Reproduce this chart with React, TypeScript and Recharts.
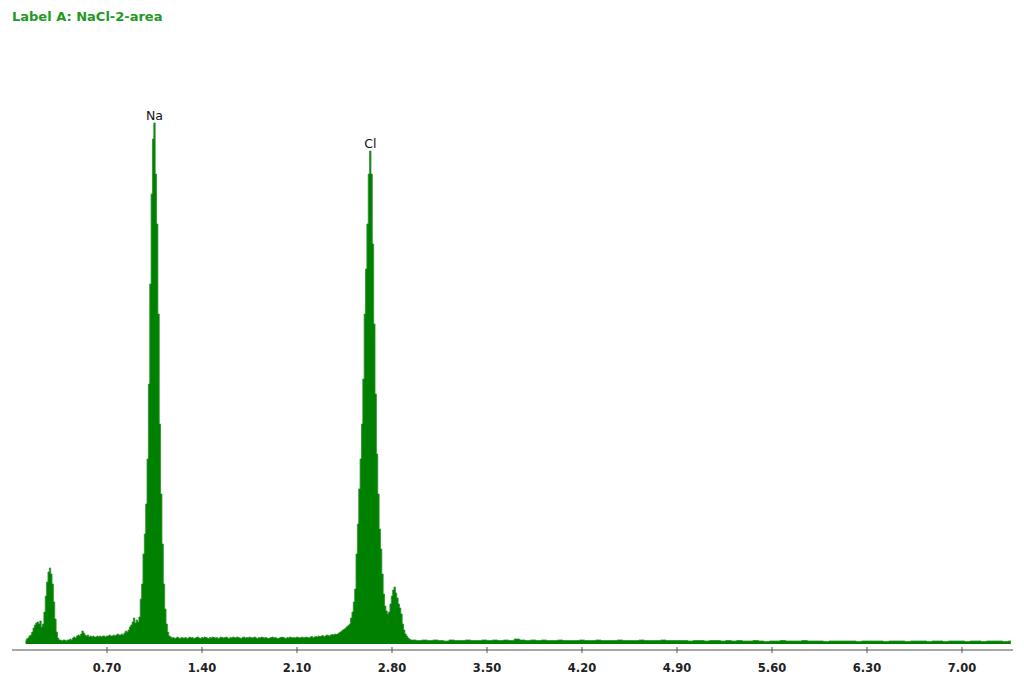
import React from 'react';
import { AreaChart, Area, XAxis, YAxis, ReferenceDot } from 'recharts';

// counts per 10 eV channel
const lowCounts = [
  30, 50, 60, 80, 90, 120, 160, 190, 210, 220,
  200, 230, 170, 200, 320, 480, 620, 720, 760, 700,
  600, 420, 250, 120, 60, 40, 40, 30, 40, 40,
  30, 40, 40, 50, 40, 60, 70, 60, 80, 90,
  80, 100, 130, 110, 90, 80, 90, 70, 80, 70,
  80, 70, 70, 80, 70, 80, 70, 80, 80, 70,
  80, 80, 90, 80, 80, 90, 80, 90, 100, 90,
]; // 0.10 - 0.79 keV

const naCounts = [
  90, 100, 90, 110, 130, 120, 140, 170, 190, 220,
  260, 210, 240, 220, 270, 450, 600, 900, 1100, 1400,
  1850, 2600, 3600, 4500, 5050, 5210, 4700, 4200, 3300, 2200,
  1500, 1000, 600, 350, 200, 120, 80,
]; // 0.80 - 1.16 keV

const midCounts = [
  70, 60, 65, 55, 60, 70, 60, 55, 65, 60,
  60, 65, 55, 60, 70, 60, 65, 55, 60, 65,
  70, 60, 55, 65, 60, 70, 65, 60, 55, 65,
  60, 70, 65, 60, 65, 55, 60, 70, 65, 60,
  65, 70, 60, 55, 65, 60, 70, 65, 60, 70,
  65, 60, 55, 65, 70, 60, 65, 60, 70, 65,
  60, 65, 70, 60, 55, 65, 60, 70, 65, 60,
  65, 60, 55, 60, 65, 70, 60, 65, 60, 55,
  60, 65, 70, 65, 60, 55, 65, 60, 70, 65,
  60, 65, 60, 70, 65, 60, 65, 70, 60, 65,
  70, 65, 60, 70, 75, 65, 70, 75, 70, 80,
  75, 80, 85, 75, 80, 90, 85, 80, 90, 95,
  90, 100, 95,
]; // 1.17 - 2.39 keV

const clCounts = [
  100, 110, 120, 130, 140, 150, 160, 175, 185, 200,
  260, 320, 420, 550, 900, 1200, 1550, 1850, 2200, 2650,
  3300, 3750, 4200, 4700, 4930, 4700, 4000, 3200, 2500, 1900,
  1500, 1150, 950, 700, 500, 380, 330, 300, 320, 400,
  480, 540, 570, 510, 460, 400, 360, 300, 200, 140,
  100, 80, 60, 50, 40, 40,
]; // 2.40 - 2.95 keV

const tailCounts = [
  40, 35, 40, 35, 40, 35, 30, 40, 35, 35,
  40, 35, 35, 40, 35, 40, 35, 40, 35, 50,
  40, 35, 40, 35, 40, 35, 35, 40, 35, 35,
  35, 40, 35, 35, 40, 35, 35, 35, 40, 35,
  35, 35, 40, 35, 35, 35, 40, 35, 35, 35,
  35, 30, 35, 35, 30, 35, 35, 30, 35, 30,
  35, 30, 30, 35, 30, 25, 30, 30, 35, 30,
  30, 30, 35, 30, 30, 30, 25, 30, 30, 30,
  30, 30, 25, 30, 30, 30, 30, 25, 30, 30,
  30, 25, 30, 30, 30, 25, 30, 30, 25, 30,
  30, 30, 25, 30, 30, 25, 30, 30, 30, 25, 30,
]; // 2.96 - 7.36 keV, 40 eV steps

const energyTicks = [0.7, 1.4, 2.1, 2.8, 3.5, 4.2, 4.9, 5.6, 6.3, 7.0];

const peakLabels = [
  { name: 'Na', energy: 1.05, counts: 5210 },
  { name: 'Cl', energy: 2.64, counts: 4930 },
];

const segment = (start: number, step: number, counts: number[]) =>
  counts.map((c, i) => ({ energy: +(start + i * step).toFixed(2), counts: c }));

const spectrum = [
  ...segment(0.1, 0.01, lowCounts),
  ...segment(0.8, 0.01, naCounts),
  ...segment(1.17, 0.01, midCounts),
  ...segment(2.4, 0.01, clCounts),
  ...segment(2.96, 0.04, tailCounts),
];

const EnergyTick = (props: any) => {
  const { x, y, payload } = props;
  return (
    <g>
      <line x1={x} x2={x} y1={y - 3} y2={y + 3} stroke="#555" strokeWidth={1} />
      <text
        x={x}
        y={y + 22}
        textAnchor="middle"
        fontFamily="DejaVu Sans"
        fontWeight="bold"
        fontSize={11.5}
        fill="#222"
      >
        {Number(payload.value).toFixed(2)}
      </text>
    </g>
  );
};

const App = () => {
  return (
    <div style={{ position: 'absolute', left: 0, top: 0, width: 1024, height: 688, background: '#fff' }}>
      <div
        style={{
          position: 'absolute',
          left: 12,
          top: 9,
          fontFamily: 'DejaVu Sans, sans-serif',
          fontWeight: 'bold',
          fontSize: 13,
          color: '#229922',
        }}
      >
        Label A: NaCl-2-area
      </div>
      <AreaChart
        width={1024}
        height={688}
        data={spectrum}
        margin={{ top: 50, right: 11, left: 12, bottom: 0 }}
      >
        <XAxis
          dataKey="energy"
          type="number"
          domain={[0, 7.376]}
          ticks={energyTicks}
          allowDataOverflow
          height={38}
          tickSize={0}
          tickMargin={0}
          tickLine={false}
          tick={<EnergyTick />}
          axisLine={{ stroke: '#8a8a8a', strokeWidth: 1.5 }}
        />
        <YAxis hide type="number" domain={[-60, 5940]} />
        <Area
          type="step"
          dataKey="counts"
          stroke="#2a8f2a"
          strokeWidth={0.8}
          fill="#008000"
          fillOpacity={1}
          isAnimationActive={false}
        />
        {peakLabels.map((p) => (
          <ReferenceDot
            key={p.name}
            x={p.energy}
            y={p.counts}
            r={0}
            fill="none"
            stroke="none"
            label={{
              value: p.name,
              position: 'top',
              offset: 3,
              fill: '#111',
              fontSize: 12.5,
              fontFamily: 'DejaVu Sans',
            }}
          />
        ))}
      </AreaChart>
    </div>
  );
};

export default App;
